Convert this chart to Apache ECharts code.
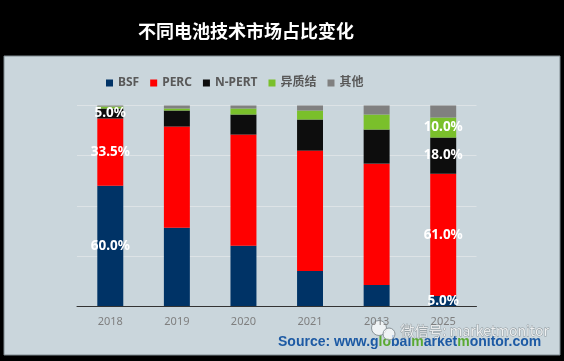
<!DOCTYPE html>
<html><head><meta charset="utf-8">
<script src="https://cdn.jsdelivr.net/npm/echarts@6/dist/echarts.min.js"></script>
<style>html,body{margin:0;padding:0;background:#000;}#c{width:564px;height:361px;}</style>
</head><body><div id="c"></div>
<script>
const categories = ['2018','2019','2020','2021','2013','2025'];
const seriesNames = ['BSF','PERC','N-PERT','异质结','其他'];
const bsf   = [60.0, 39.0, 30.0, 17.5, 10.5, 5.0];
const perc  = [33.5, 50.5, 55.5, 60.0, 60.5, 61.0];
const npert = [5.0, 8.0, 10.0, 15.5, 17.0, 18.0];
const hj    = [1.0, 1.0, 3.0, 4.5, 7.5, 10.0];
const other = [0.5, 1.5, 1.5, 2.5, 4.5, 6.0];
// which points carry a value label
const bsfLab   = [true, false, false, false, false, true];
const percLab  = [true, false, false, false, false, true];
const npertLab = [true, false, false, false, false, true];
const hjLab    = [false, false, false, false, false, true];
const otherLab = [false, false, false, false, false, false];
const yTicks = [0, 25, 50, 75, 100];

const colors = ['#003366','#ff0000','#0d0d0d','#7ac02b','#808080'];
const values = [bsf, perc, npert, hj, other];
const labs = [bsfLab, percLab, npertLab, hjLab, otherLab];

const chart = echarts.init(document.getElementById('c'));
const series = seriesNames.map((n, i) => ({
  name: n, type: 'bar', stack: 'all', barWidth: '39%',
  itemStyle: { color: colors[i] },
  data: values[i].map((v, j) => ({
    value: v,
    label: { show: labs[i][j], position: 'inside', formatter: v.toFixed(1) + '%',
      color: '#fff', fontSize: 13.5, fontWeight: 'bold', fontFamily: 'Noto Sans' }
  }))
}));

chart.setOption({
  backgroundColor: '#000',
  animation: false,
  color: colors,
  graphic: [
    { type: 'rect', shape: { x: 4, y: 56, width: 556, height: 299 },
      style: { fill: '#cad6dc', stroke: '#7f8a90', lineWidth: 1 }, z: -10 },
    { type: 'text', left: 138, top: 22, style: { text: '不同电池技术市场占比变化', fill: '#fff',
      font: 'bold 18px "Noto Sans CJK SC"' } },
    { type: 'text', left: 278, top: 335, style: {
      text: '{b|Source: www.g}{g|lo}{b|bal}{g|m}{b|arket}{g|m}{b|onitor.com}',
      rich: { b: { fill: '#1d5aa4', font: 'bold 14px "Liberation Sans"' },
              g: { fill: '#5aaa32', font: 'bold 14px "Liberation Sans"' } } } },
    { type: 'circle', shape: { cx: 379, cy: 328, r: 7.5 }, style: { fill: 'rgba(255,255,255,0.7)', stroke: '#8a9499', lineWidth: 1 } },
    { type: 'circle', shape: { cx: 389, cy: 334, r: 6 }, style: { fill: 'rgba(255,255,255,0.7)', stroke: '#8a9499', lineWidth: 1 } },
    { type: 'text', left: 400, top: 323, style: { text: '微信号: marketmonitor', fill: 'rgba(255,255,255,0.8)',
      stroke: '#8a9499', lineWidth: 0.8, font: '14px "Noto Sans CJK SC"' } }
  ],
  legend: {
    left: 101, top: 72, itemWidth: 7, itemHeight: 7, itemGap: 11,
    icon: 'rect',
    textStyle: { color: '#595959', fontWeight: 'bold', fontSize: 12, fontFamily: 'Noto Sans, "Noto Sans CJK SC"' },
    data: seriesNames
  },
  grid: { left: 77, right: 87.5, top: 105.5, bottom: 55, containLabel: false },
  xAxis: {
    type: 'category', data: categories,
    axisLine: { lineStyle: { color: '#333', width: 1 } },
    axisTick: { show: false },
    axisLabel: { color: '#7f7f7f', fontSize: 11, fontFamily: 'Noto Sans', margin: 10 }
  },
  yAxis: {
    type: 'value', min: yTicks[0], max: yTicks[yTicks.length - 1], interval: yTicks[1] - yTicks[0],
    axisLabel: { show: false }, axisLine: { show: false }, axisTick: { show: false },
    splitLine: { lineStyle: { color: '#dde3e6', width: 1 } }
  },
  series: series
});
</script></body></html>
